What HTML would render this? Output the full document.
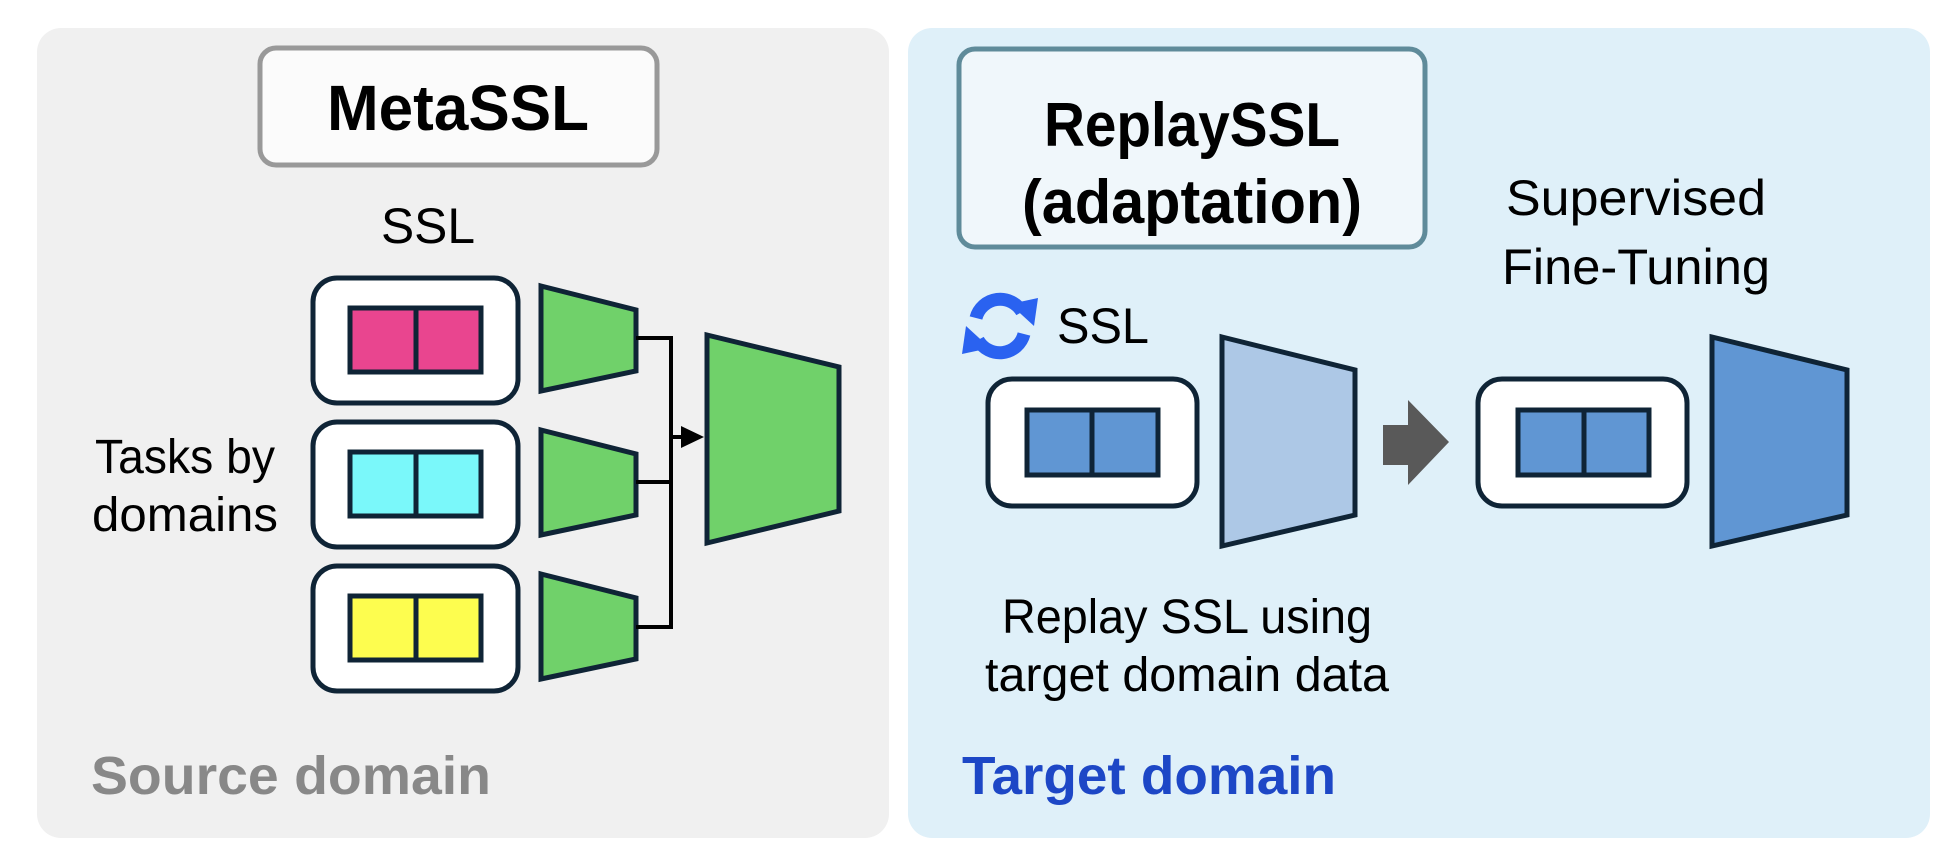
<!DOCTYPE html>
<html><head><meta charset="utf-8"><style>html,body{margin:0;padding:0;background:#fff}svg{display:block}</style></head>
<body>
<svg width="1958" height="868" viewBox="0 0 1958 868" xmlns="http://www.w3.org/2000/svg" font-family="'Liberation Sans', sans-serif">
<rect x="37" y="28" width="852" height="810" rx="24" fill="#f0f0f0"/>
<rect x="908" y="28" width="1022" height="810" rx="24" fill="#dff0f9"/>
<rect x="260" y="48" width="397" height="117" rx="16" fill="#fbfbfb" stroke="#999" stroke-width="5"/>
<text x="458" y="130" font-size="64" font-weight="bold" text-anchor="middle" textLength="262" lengthAdjust="spacingAndGlyphs">MetaSSL</text>
<text x="428" y="243" font-size="50" text-anchor="middle" textLength="94" lengthAdjust="spacingAndGlyphs">SSL</text>
<text x="185" y="473" font-size="48" text-anchor="middle" textLength="180" lengthAdjust="spacingAndGlyphs">Tasks by</text>
<text x="185" y="531" font-size="48" text-anchor="middle" textLength="186" lengthAdjust="spacingAndGlyphs">domains</text>
<g stroke="#0f2436" stroke-width="5">
<rect x="313" y="278" width="205" height="125" rx="24" fill="#fff"/>
<rect x="350" y="308" width="131" height="64" fill="#e9458f"/><line x1="416" y1="308" x2="416" y2="372"/>
<polygon points="541,286 636,310 636,371 541,391" fill="#70d16a"/>
<rect x="313" y="422" width="205" height="125" rx="24" fill="#fff"/>
<rect x="350" y="452" width="131" height="64" fill="#7af8fa"/><line x1="416" y1="452" x2="416" y2="516"/>
<polygon points="541,430 636,454 636,515 541,535" fill="#70d16a"/>
<rect x="313" y="566" width="205" height="125" rx="24" fill="#fff"/>
<rect x="350" y="596" width="131" height="64" fill="#fdfd4f"/><line x1="416" y1="596" x2="416" y2="660"/>
<polygon points="541,574 636,598 636,659 541,679" fill="#70d16a"/>
<polygon points="707,335 839,367 839,511 707,543" fill="#70d16a"/>
</g>
<g stroke="#000" stroke-width="4" fill="none">
<polyline points="636,338 671,338 671,627 636,627"/>
<line x1="636" y1="482" x2="671" y2="482"/>
<line x1="671" y1="437" x2="684" y2="437"/>
</g>
<polygon points="681,426 704,437 681,448" fill="#000"/>
<text x="91" y="794" font-size="54" font-weight="bold" fill="#888" textLength="400" lengthAdjust="spacingAndGlyphs">Source domain</text>

<rect x="959" y="49" width="466" height="198" rx="16" fill="#f0f7fb" stroke="#5f8b9a" stroke-width="5"/>
<text x="1192" y="146" font-size="62" font-weight="bold" text-anchor="middle" textLength="296" lengthAdjust="spacingAndGlyphs">ReplaySSL</text>
<text x="1192" y="223" font-size="62" font-weight="bold" text-anchor="middle" textLength="340" lengthAdjust="spacingAndGlyphs">(adaptation)</text>
<text x="1636" y="215" font-size="50" text-anchor="middle" textLength="260" lengthAdjust="spacingAndGlyphs">Supervised</text>
<text x="1636" y="284" font-size="50" text-anchor="middle" textLength="268" lengthAdjust="spacingAndGlyphs">Fine-Tuning</text>
<g fill="none" stroke="#2a62f0" stroke-width="13">
<path d="M976,318 A25,25 0 0 1 1022,312"/>
<path d="M1024,334 A25,25 0 0 1 978,340"/>
</g>
<polygon points="1010,304 1038,298 1034,326" fill="#2a62f0"/>
<polygon points="990,348 962,354 966,326" fill="#2a62f0"/>
<text x="1057" y="343" font-size="50" textLength="92" lengthAdjust="spacingAndGlyphs">SSL</text>
<g stroke="#0f2436" stroke-width="5">
<rect x="988" y="379" width="209" height="127" rx="24" fill="#fff"/>
<rect x="1027" y="410" width="131" height="65" fill="#6096d3"/><line x1="1092" y1="410" x2="1092" y2="475"/>
<polygon points="1222,337 1355,370 1355,515 1222,546" fill="#adc8e6"/>
<rect x="1478" y="379" width="209" height="127" rx="24" fill="#fff"/>
<rect x="1518" y="410" width="131" height="65" fill="#6096d3"/><line x1="1584" y1="410" x2="1584" y2="475"/>
<polygon points="1712,337 1847,370 1847,515 1712,546" fill="#6096d3"/>
</g>
<polygon points="1383,425 1408,425 1408,400 1449,442 1408,485 1408,465 1383,465" fill="#595959"/>
<text x="1187" y="633" font-size="48" text-anchor="middle" textLength="370" lengthAdjust="spacingAndGlyphs">Replay  SSL using</text>
<text x="1187" y="691" font-size="48" text-anchor="middle" textLength="404" lengthAdjust="spacingAndGlyphs">target domain data</text>
<text x="962" y="794" font-size="54" font-weight="bold" fill="#1d47c6" textLength="374" lengthAdjust="spacingAndGlyphs">Target domain</text>
</svg>
</body></html>
